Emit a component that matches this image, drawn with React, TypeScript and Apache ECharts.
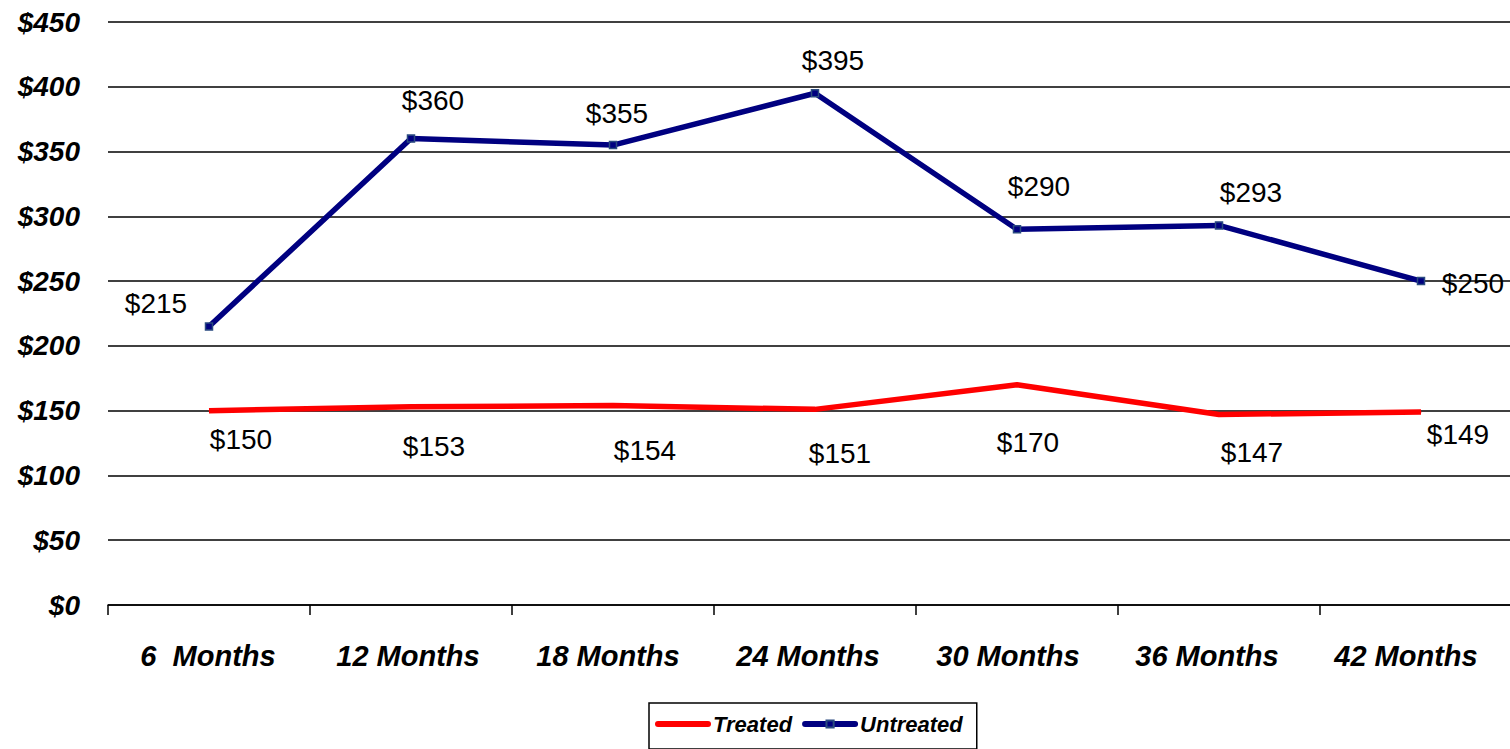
import React, { useEffect, useRef } from "react";
import * as echarts from "echarts";

const categories = ["6  Months", "12 Months", "18 Months", "24 Months", "30 Months", "36 Months", "42 Months"];
const treated = [150, 153, 154, 151, 170, 147, 149];
const untreated = [215, 360, 355, 395, 290, 293, 250];
const yTicks = { min: 0, max: 450, interval: 50 };

// label placement offsets (layout only)
const untreatedLabelOffsets = [[-53, -23], [22, -38], [4, -32], [18, -33], [22, -43], [32, -33], [52, 2]];
const treatedLabelOffsets = [[32, 29], [23, 40], [32, 45], [25, 44], [11, 58], [33, 38], [37, 23]];
// leftward drift of category labels (px), layout only
const xLabelShift = [1, 3, 5, 7, 9, 12, 15];

const FONT = "'Liberation Sans', Arial, sans-serif";

export default function App() {
  const ref = useRef<HTMLDivElement>(null);
  useEffect(() => {
    document.body.style.margin = "0";
    const chart = echarts.init(ref.current!, null, { renderer: "svg" });
    const labelStyle = {
      show: true,
      position: "inside",
      fontFamily: FONT,
      fontSize: 28,
      color: "#000",
      formatter: (p: any) => "$" + p.value,
    };
    const rich: Record<string, any> = {};
    xLabelShift.forEach((s, i) => {
      rich["c" + i] = {
        fontFamily: FONT,
        fontSize: 29,
        fontWeight: "bold",
        fontStyle: "italic",
        color: "#000",
        padding: [0, s * 2, 0, 0],
      };
    });
    chart.setOption({
      animation: false,
      backgroundColor: "#fff",
      grid: { left: 108, right: 0, top: 22, bottom: 144, containLabel: false },
      legend: {
        left: 649,
        top: 703,
        padding: [10, 14, 14, 6],
        borderColor: "#000",
        borderWidth: 1.5,
        itemWidth: 50,
        itemHeight: 9,
        itemGap: 10,
        textStyle: { fontFamily: FONT, fontSize: 22, fontWeight: "bold", fontStyle: "italic", color: "#000" },
        data: [
          { name: "Treated", itemStyle: { opacity: 0 }, lineStyle: { width: 6, cap: "round" } },
          { name: "Untreated", lineStyle: { width: 6, cap: "round" } },
        ],
      },
      xAxis: {
        type: "category",
        data: categories,
        boundaryGap: true,
        axisLine: { lineStyle: { color: "#000", width: 1.5 } },
        axisTick: { show: true, length: 10, inside: false, alignWithLabel: false, lineStyle: { color: "#000", width: 1.5 } },
        axisLabel: {
          margin: 36,
          fontFamily: FONT,
          fontSize: 29,
          fontWeight: "bold",
          fontStyle: "italic",
          color: "#000",
          interval: 0,
          formatter: (v: string, i: number) => `{c${i}|${v}}`,
          rich,
        },
        splitLine: { show: false },
      },
      yAxis: {
        type: "value",
        min: yTicks.min,
        max: yTicks.max,
        interval: yTicks.interval,
        axisLine: { show: false },
        axisTick: { show: false },
        axisLabel: {
          margin: 28,
          fontFamily: FONT,
          fontSize: 28,
          fontWeight: "bold",
          fontStyle: "italic",
          color: "#000",
          formatter: (v: number) => "$" + v,
        },
        splitLine: { show: true, lineStyle: { color: "#000", width: 1.5 } },
      },
      series: [
        {
          name: "Treated",
          type: "line",
          data: treated.map((v, i) => ({ value: v, label: { offset: treatedLabelOffsets[i] } })),
          symbol: "circle",
          symbolSize: 1,
          itemStyle: { color: "#ff0000" },
          lineStyle: { color: "#ff0000", width: 5.5 },
          label: labelStyle,
          z: 3,
        },
        {
          name: "Untreated",
          type: "line",
          data: untreated.map((v, i) => ({ value: v, label: { offset: untreatedLabelOffsets[i] } })),
          symbol: "rect",
          symbolSize: 7,
          itemStyle: { color: "#000080", borderColor: "#2a4a80", borderWidth: 1.5 },
          lineStyle: { color: "#000080", width: 5.5 },
          label: labelStyle,
          z: 4,
        },
      ],
    });
    return () => chart.dispose();
  }, []);
  return (
    <div style={{ width: 1510, height: 749, overflow: "hidden", position: "relative" }}>
      <div ref={ref} style={{ width: 1522, height: 749 }} />
    </div>
  );
}
